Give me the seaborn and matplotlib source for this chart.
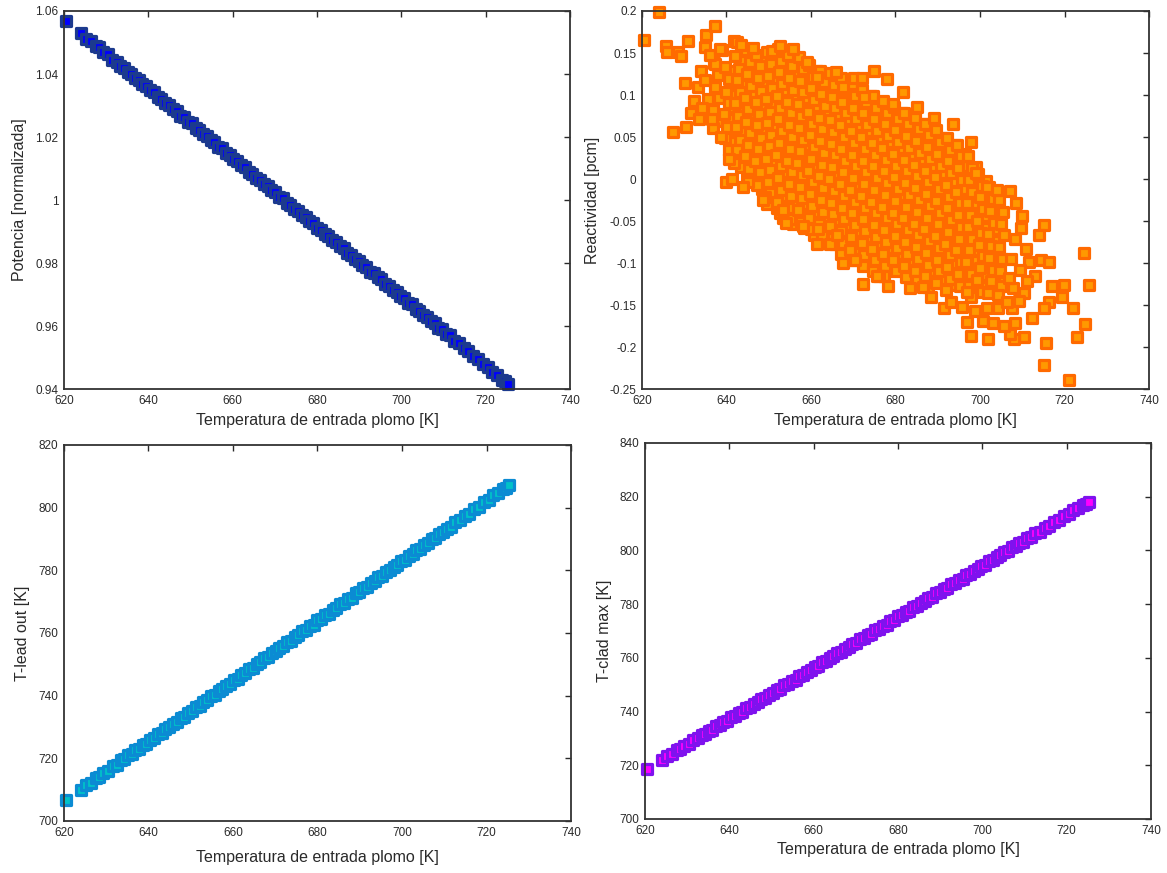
import matplotlib
matplotlib.use('Agg')
import matplotlib.pyplot as plt
import seaborn as sns

# inlet lead temperature [K] for the three "linear" panels
temp_lin = [
    620.5, 624.0, 625.3, 626.4, 627.5, 628.4, 629.3, 630.4, 631.5, 632.6,
    633.4, 634.3, 635.2, 636.0, 636.9, 637.8, 638.6, 639.5, 640.4, 641.3,
    642.2, 643.1, 644.0, 644.9, 645.8, 646.7, 647.6, 648.5, 649.4, 650.3,
    651.2, 652.1, 653.0, 653.9, 654.8, 655.7, 656.6, 657.5, 658.4, 659.3,
    660.2, 661.1, 662.0, 662.9, 663.8, 664.7, 665.6, 666.5, 667.4, 668.3,
    669.2, 670.1, 671.0, 671.9, 672.8, 673.7, 674.6, 675.5, 676.4, 677.3,
    678.2, 679.1, 680.0, 680.9, 681.8, 682.7, 683.6, 684.5, 685.4, 686.3,
    687.2, 688.1, 689.0, 689.9, 690.8, 691.7, 692.6, 693.5, 694.4, 695.3,
    696.2, 697.1, 698.0, 698.9, 699.8, 700.7, 701.6, 702.5, 703.4, 704.3,
    705.2, 706.1, 707.0, 707.9, 708.8, 709.7, 710.6, 711.5, 712.6, 713.7,
    714.8, 715.9, 717.0, 718.2, 719.3, 720.5, 721.6, 722.7, 723.8, 724.6,
    725.3,
]

potencia = [
    1.0569, 1.0530, 1.0512, 1.0506, 1.0490, 1.0485, 1.0470, 1.0462, 1.0446, 1.0437,
    1.0425, 1.0419, 1.0405, 1.0400, 1.0386, 1.0380, 1.0367, 1.0362, 1.0348, 1.0342,
    1.0328, 1.0322, 1.0308, 1.0302, 1.0288, 1.0282, 1.0268, 1.0263, 1.0249, 1.0243,
    1.0229, 1.0223, 1.0209, 1.0203, 1.0189, 1.0183, 1.0169, 1.0164, 1.0150, 1.0144,
    1.0130, 1.0124, 1.0110, 1.0104, 1.0090, 1.0084, 1.0070, 1.0065, 1.0051, 1.0045,
    1.0031, 1.0025, 1.0011, 1.0005, 0.9991, 0.9985, 0.9971, 0.9966, 0.9952, 0.9946,
    0.9932, 0.9926, 0.9912, 0.9906, 0.9892, 0.9886, 0.9872, 0.9867, 0.9853, 0.9847,
    0.9833, 0.9827, 0.9813, 0.9807, 0.9793, 0.9787, 0.9773, 0.9768, 0.9754, 0.9748,
    0.9734, 0.9728, 0.9714, 0.9708, 0.9694, 0.9688, 0.9674, 0.9669, 0.9655, 0.9649,
    0.9635, 0.9629, 0.9615, 0.9609, 0.9595, 0.9589, 0.9575, 0.9570, 0.9553, 0.9545,
    0.9529, 0.9521, 0.9505, 0.9496, 0.9480, 0.9471, 0.9454, 0.9446, 0.9430, 0.9425,
    0.9416,
]

t_lead_out = [
    706.6, 710.0, 711.5, 712.0, 713.6, 714.0, 715.4, 715.9, 717.4, 718.0,
    719.3, 719.7, 721.0, 721.3, 722.6, 723.0, 724.3, 724.7, 726.0, 726.4,
    727.7, 728.1, 729.4, 729.9, 731.1, 731.6, 732.9, 733.3, 734.6, 735.0,
    736.3, 736.8, 738.0, 738.5, 739.8, 740.2, 741.5, 742.0, 743.2, 743.7,
    745.0, 745.4, 746.7, 747.1, 748.4, 748.9, 750.1, 750.6, 751.9, 752.3,
    753.6, 754.1, 755.3, 755.8, 757.0, 757.5, 758.8, 759.2, 760.5, 761.0,
    762.2, 762.7, 764.0, 764.4, 765.7, 766.2, 767.4, 767.9, 769.1, 769.6,
    770.9, 771.3, 772.6, 773.1, 774.3, 774.8, 776.1, 776.5, 777.8, 778.2,
    779.5, 780.0, 781.2, 781.7, 783.0, 783.4, 784.7, 785.2, 786.4, 786.9,
    788.2, 788.6, 789.9, 790.3, 791.6, 792.1, 793.3, 793.8, 795.3, 795.9,
    797.4, 798.0, 799.5, 800.2, 801.7, 802.4, 803.9, 804.6, 806.0, 806.4,
    807.2,
]

t_clad_max = [
    718.7, 722.0, 723.4, 724.1, 725.5, 726.0, 727.2, 727.9, 729.3, 730.0,
    731.1, 731.6, 732.8, 733.2, 734.5, 734.9, 736.1, 736.5, 737.8, 738.2,
    739.5, 739.9, 741.2, 741.7, 742.9, 743.4, 744.6, 745.1, 746.3, 746.8,
    748.0, 748.5, 749.8, 750.2, 751.5, 751.9, 753.2, 753.6, 754.9, 755.3,
    756.6, 757.0, 758.3, 758.8, 760.0, 760.5, 761.7, 762.2, 763.4, 763.9,
    765.1, 765.6, 766.9, 767.3, 768.6, 769.0, 770.3, 770.7, 772.0, 772.4,
    773.7, 774.1, 775.4, 775.9, 777.1, 777.6, 778.8, 779.3, 780.5, 781.0,
    782.2, 782.7, 784.0, 784.4, 785.7, 786.1, 787.4, 787.8, 789.1, 789.5,
    790.8, 791.2, 792.5, 793.0, 794.2, 794.7, 795.9, 796.4, 797.6, 798.1,
    799.3, 799.8, 801.1, 801.5, 802.8, 803.2, 804.5, 804.9, 806.4, 807.0,
    808.5, 809.1, 810.6, 811.3, 812.7, 813.5, 814.9, 815.6, 817.0, 817.4,
    818.2,
]

# reactivity cloud, dense part (one line per temperature strip)
react_t = [
    637.1, 638.0, 637.4, 638.2, 636.9, 637.7,
    639.6, 640.5, 639.9, 640.7, 639.4, 640.2, 639.7, 640.6,
    642.1, 643.0, 642.4, 643.2, 641.9, 642.7, 642.2, 643.1, 642.5, 641.8,
    644.6, 645.5, 644.9, 645.7, 644.4, 645.2, 644.7, 645.6, 645.0, 644.3, 645.4, 644.8,
    647.1, 648.0, 647.4, 648.2, 646.9, 647.7, 647.2, 648.1, 647.5, 646.8, 647.9, 647.3,
    649.6, 650.5, 649.9, 650.7, 649.4, 650.2, 649.7, 650.6, 650.0, 649.3, 650.4, 649.8, 650.3, 649.5,
    652.1, 653.0, 652.4, 653.2, 651.9, 652.7, 652.2, 653.1, 652.5, 651.8, 652.9, 652.3, 652.8, 652.0, 652.6,
    654.6, 655.5, 654.9, 655.7, 654.4, 655.2, 654.7, 655.6, 655.0, 654.3, 655.4, 654.8, 655.3, 654.5, 655.1,
    657.1, 658.0, 657.4, 658.2, 656.9, 657.7, 657.2, 658.1, 657.5, 656.8, 657.9, 657.3, 657.8, 657.0, 657.6,
    659.6, 660.5, 659.9, 660.7, 659.4, 660.2, 659.7, 660.6, 660.0, 659.3, 660.4, 659.8, 660.3, 659.5, 660.1,
    662.1, 663.0, 662.4, 663.2, 661.9, 662.7, 662.2, 663.1, 662.5, 661.8, 662.9, 662.3, 662.8, 662.0, 662.6,
    664.6, 665.5, 664.9, 665.7, 664.4, 665.2, 664.7, 665.6, 665.0, 664.3, 665.4, 664.8, 665.3, 664.5, 665.1,
    667.1, 668.0, 667.4, 668.2, 666.9, 667.7, 667.2, 668.1, 667.5, 666.8, 667.9, 667.3, 667.8, 667.0, 667.6, 667.2,
    669.6, 670.5, 669.9, 670.7, 669.4, 670.2, 669.7, 670.6, 670.0, 669.3, 670.4, 669.8, 670.3, 669.5, 670.1, 669.7,
    672.1, 673.0, 672.4, 673.2, 671.9, 672.7, 672.2, 673.1, 672.5, 671.8, 672.9, 672.3, 672.8, 672.0, 672.6, 672.2,
    674.6, 675.5, 674.9, 675.7, 674.4, 675.2, 674.7, 675.6, 675.0, 674.3, 675.4, 674.8, 675.3, 674.5, 675.1, 674.7,
    677.1, 678.0, 677.4, 678.2, 676.9, 677.7, 677.2, 678.1, 677.5, 676.8, 677.9, 677.3, 677.8, 677.0, 677.6, 677.2,
    679.6, 680.5, 679.9, 680.7, 679.4, 680.2, 679.7, 680.6, 680.0, 679.3, 680.4, 679.8, 680.3, 679.5, 680.1,
    682.1, 683.0, 682.4, 683.2, 681.9, 682.7, 682.2, 683.1, 682.5, 681.8, 682.9, 682.3, 682.8, 682.0, 682.6,
    684.6, 685.5, 684.9, 685.7, 684.4, 685.2, 684.7, 685.6, 685.0, 684.3, 685.4, 684.8, 685.3, 684.5, 685.1,
    687.1, 688.0, 687.4, 688.2, 686.9, 687.7, 687.2, 688.1, 687.5, 686.8, 687.9, 687.3, 687.8, 687.0, 687.6,
    689.6, 690.5, 689.9, 690.7, 689.4, 690.2, 689.7, 690.6, 690.0, 689.3, 690.4, 689.8, 690.3, 689.5,
    692.1, 693.0, 692.4, 693.2, 691.9, 692.7, 692.2, 693.1, 692.5, 691.8, 692.9, 692.3, 692.8, 692.0,
    694.6, 695.5, 694.9, 695.7, 694.4, 695.2, 694.7, 695.6, 695.0, 694.3, 695.4, 694.8, 695.3,
    697.1, 698.0, 697.4, 698.2, 696.9, 697.7, 697.2, 698.1, 697.5, 696.8, 697.9, 697.3, 697.8,
    699.6, 700.5, 699.9, 700.7, 699.4, 700.2, 699.7, 700.6, 700.0, 699.3, 700.4,
    702.1, 703.0, 702.4, 703.2, 701.9, 702.7, 702.2, 703.1, 702.5, 701.8,
    704.6, 705.5, 704.9, 705.7, 704.4, 705.2, 704.7, 705.6,
]

react_rho = [
    0.138, 0.124, 0.109, 0.096, 0.082, 0.069,
    0.133, 0.119, 0.104, 0.091, 0.077, 0.062, 0.049, 0.035,
    0.146, 0.131, 0.118, 0.103, 0.090, 0.075, 0.062, 0.047, 0.034, 0.019,
    0.153, 0.139, 0.125, 0.111, 0.096, 0.083, 0.068, 0.055, 0.040, 0.027, 0.012, 0.000,
    0.148, 0.134, 0.120, 0.105, 0.092, 0.077, 0.064, 0.049, 0.036, 0.021, 0.008, -0.007,
    0.151, 0.137, 0.123, 0.108, 0.095, 0.080, 0.067, 0.052, 0.039, 0.024, 0.011, -0.004, -0.017, -0.030,
    0.155, 0.141, 0.127, 0.113, 0.099, 0.085, 0.071, 0.057, 0.043, 0.029, 0.015, 0.001, -0.013, -0.027, -0.041,
    0.148, 0.134, 0.120, 0.106, 0.092, 0.078, 0.064, 0.050, 0.036, 0.022, 0.008, -0.006, -0.020, -0.034, -0.048,
    0.145, 0.131, 0.117, 0.103, 0.089, 0.075, 0.061, 0.047, 0.033, 0.019, 0.005, -0.009, -0.023, -0.037, -0.051,
    0.136, 0.122, 0.108, 0.094, 0.080, 0.066, 0.052, 0.038, 0.024, 0.010, -0.004, -0.018, -0.032, -0.046, -0.060,
    0.129, 0.115, 0.101, 0.087, 0.073, 0.059, 0.045, 0.031, 0.017, 0.003, -0.011, -0.025, -0.039, -0.053, -0.067,
    0.126, 0.112, 0.098, 0.084, 0.070, 0.056, 0.042, 0.028, 0.014, 0.000, -0.014, -0.028, -0.042, -0.056, -0.070,
    0.120, 0.106, 0.092, 0.078, 0.064, 0.050, 0.036, 0.022, 0.008, -0.006, -0.020, -0.034, -0.048, -0.062, -0.076, -0.089,
    0.113, 0.099, 0.085, 0.071, 0.057, 0.043, 0.029, 0.015, 0.001, -0.013, -0.027, -0.041, -0.055, -0.069, -0.083, -0.097,
    0.106, 0.092, 0.078, 0.064, 0.050, 0.036, 0.022, 0.008, -0.006, -0.020, -0.034, -0.048, -0.062, -0.076, -0.090, -0.104,
    0.099, 0.085, 0.071, 0.057, 0.043, 0.029, 0.015, 0.001, -0.013, -0.027, -0.041, -0.055, -0.069, -0.083, -0.097, -0.110,
    0.093, 0.079, 0.065, 0.051, 0.037, 0.023, 0.009, -0.005, -0.019, -0.033, -0.047, -0.061, -0.075, -0.089, -0.103, -0.116,
    0.086, 0.072, 0.058, 0.044, 0.030, 0.016, 0.002, -0.012, -0.026, -0.040, -0.054, -0.068, -0.082, -0.096, -0.110,
    0.079, 0.065, 0.051, 0.037, 0.023, 0.009, -0.005, -0.019, -0.033, -0.047, -0.061, -0.075, -0.089, -0.103, -0.117,
    0.073, 0.059, 0.045, 0.031, 0.017, 0.003, -0.011, -0.025, -0.039, -0.053, -0.067, -0.081, -0.095, -0.109, -0.122,
    0.066, 0.052, 0.038, 0.024, 0.010, -0.004, -0.018, -0.032, -0.046, -0.060, -0.074, -0.088, -0.102, -0.116, -0.128,
    0.058, 0.044, 0.030, 0.016, 0.002, -0.012, -0.026, -0.040, -0.054, -0.068, -0.082, -0.096, -0.110, -0.124,
    0.049, 0.035, 0.021, 0.007, -0.007, -0.021, -0.035, -0.049, -0.063, -0.077, -0.091, -0.105, -0.119, -0.132,
    0.041, 0.027, 0.013, -0.001, -0.015, -0.029, -0.043, -0.057, -0.071, -0.085, -0.099, -0.113, -0.127,
    0.027, 0.013, -0.001, -0.015, -0.029, -0.043, -0.057, -0.071, -0.085, -0.099, -0.113, -0.127, -0.140,
    0.006, -0.008, -0.022, -0.036, -0.050, -0.064, -0.078, -0.092, -0.106, -0.120, -0.134,
    -0.010, -0.024, -0.038, -0.052, -0.066, -0.080, -0.094, -0.108, -0.122, -0.136,
    -0.025, -0.039, -0.053, -0.067, -0.081, -0.095, -0.109, -0.123,
]

# reactivity cloud, points lying between the strips above
fill_t = [
    641.5, 640.8, 641.8, 641.0, 641.3, 640.6, 641.6, 641.1,
    644.1, 643.4, 644.4, 643.6, 643.9, 643.2, 644.2, 643.7, 644.3, 643.5,
    646.5, 645.8, 646.8, 646.0, 646.3, 645.6, 646.6, 646.1, 646.7, 645.9, 646.4,
    649.1, 648.4, 649.4, 648.6, 648.9, 648.2, 649.2, 648.7, 649.3, 648.5, 649.0, 648.3,
    651.5, 650.8, 651.8, 651.0, 651.3, 650.6, 651.6, 651.1, 651.7, 650.9, 651.4, 650.7, 651.2, 651.9,
    654.1, 653.4, 654.4, 653.6, 653.9, 653.2, 654.2, 653.7, 654.3, 653.5, 654.0, 653.3, 653.8, 654.5, 653.4,
    656.5, 655.8, 656.8, 656.0, 656.3, 655.6, 656.6, 656.1, 656.7, 655.9, 656.4, 655.7, 656.2, 656.9, 655.8,
    659.1, 658.4, 659.4, 658.6, 658.9, 658.2, 659.2, 658.7, 659.3, 658.5, 659.0, 658.3, 658.8, 659.5, 658.4,
    661.5, 660.8, 661.8, 661.0, 661.3, 660.6, 661.6, 661.1, 661.7, 660.9, 661.4, 660.7, 661.2, 661.9, 660.8,
    664.1, 663.4, 664.4, 663.6, 663.9, 663.2, 664.2, 663.7, 664.3, 663.5, 664.0, 663.3, 663.8, 664.5, 663.4,
    666.5, 665.8, 666.8, 666.0, 666.3, 665.6, 666.6, 666.1, 666.7, 665.9, 666.4, 665.7, 666.2, 666.9, 665.8,
    669.1, 668.4, 669.4, 668.6, 668.9, 668.2, 669.2, 668.7, 669.3, 668.5, 669.0, 668.3, 668.8, 669.5, 668.4,
    671.5, 670.8, 671.8, 671.0, 671.3, 670.6, 671.6, 671.1, 671.7, 670.9, 671.4, 670.7, 671.2, 671.9, 670.8,
    674.1, 673.4, 674.4, 673.6, 673.9, 673.2, 674.2, 673.7, 674.3, 673.5, 674.0, 673.3, 673.8, 674.5, 673.4,
    676.5, 675.8, 676.8, 676.0, 676.3, 675.6, 676.6, 676.1, 676.7, 675.9, 676.4, 675.7, 676.2, 676.9, 675.8,
    679.1, 678.4, 679.4, 678.6, 678.9, 678.2, 679.2, 678.7, 679.3, 678.5, 679.0, 678.3, 678.8, 679.5, 678.4,
    681.5, 680.8, 681.8, 681.0, 681.3, 680.6, 681.6, 681.1, 681.7, 680.9, 681.4, 680.7, 681.2, 681.9,
    684.1, 683.4, 684.4, 683.6, 683.9, 683.2, 684.2, 683.7, 684.3, 683.5, 684.0, 683.3, 683.8, 684.5,
    686.5, 685.8, 686.8, 686.0, 686.3, 685.6, 686.6, 686.1, 686.7, 685.9, 686.4, 685.7, 686.2, 686.9,
    689.1, 688.4, 689.4, 688.6, 688.9, 688.2, 689.2, 688.7, 689.3, 688.5, 689.0, 688.3, 688.8, 689.5,
    691.5, 690.8, 691.8, 691.0, 691.3, 690.6, 691.6, 691.1, 691.7, 690.9, 691.4, 690.7, 691.2,
    694.1, 693.4, 694.4, 693.6, 693.9, 693.2, 694.2, 693.7, 694.3, 693.5, 694.0, 693.3, 693.8,
    696.5, 695.8, 696.8, 696.0, 696.3, 695.6, 696.6, 696.1, 696.7, 695.9, 696.4, 695.7,
    699.1, 698.4, 699.4, 698.6, 698.9, 698.2, 699.2, 698.7, 699.3, 698.5, 699.0,
    701.5, 700.8, 701.8, 701.0, 701.3, 700.6, 701.6, 701.1, 701.7, 700.9,
    704.1, 703.4, 704.4, 703.6, 703.9, 703.2, 704.2, 703.7, 704.3,
]

fill_rho = [
    0.128, 0.114, 0.100, 0.086, 0.072, 0.058, 0.044, 0.030,
    0.140, 0.126, 0.112, 0.098, 0.084, 0.070, 0.056, 0.042, 0.028, 0.014,
    0.144, 0.130, 0.116, 0.102, 0.088, 0.074, 0.060, 0.046, 0.032, 0.018, 0.004,
    0.142, 0.128, 0.114, 0.100, 0.086, 0.072, 0.058, 0.044, 0.030, 0.016, 0.002, -0.012,
    0.146, 0.132, 0.118, 0.104, 0.090, 0.076, 0.062, 0.048, 0.034, 0.020, 0.006, -0.008, -0.022, -0.034,
    0.148, 0.134, 0.120, 0.106, 0.092, 0.078, 0.064, 0.050, 0.036, 0.022, 0.008, -0.006, -0.020, -0.034, -0.046,
    0.141, 0.127, 0.113, 0.099, 0.085, 0.071, 0.057, 0.043, 0.029, 0.015, 0.001, -0.013, -0.027, -0.041, -0.053,
    0.138, 0.124, 0.110, 0.096, 0.082, 0.068, 0.054, 0.040, 0.026, 0.012, -0.002, -0.016, -0.030, -0.044, -0.058,
    0.129, 0.115, 0.101, 0.087, 0.073, 0.059, 0.045, 0.031, 0.017, 0.003, -0.011, -0.025, -0.039, -0.053, -0.067,
    0.122, 0.108, 0.094, 0.080, 0.066, 0.052, 0.038, 0.024, 0.010, -0.004, -0.018, -0.032, -0.046, -0.060, -0.074,
    0.119, 0.105, 0.091, 0.077, 0.063, 0.049, 0.035, 0.021, 0.007, -0.007, -0.021, -0.035, -0.049, -0.063, -0.077,
    0.113, 0.099, 0.085, 0.071, 0.057, 0.043, 0.029, 0.015, 0.001, -0.013, -0.027, -0.041, -0.055, -0.069, -0.083,
    0.106, 0.092, 0.078, 0.064, 0.050, 0.036, 0.022, 0.008, -0.006, -0.020, -0.034, -0.048, -0.062, -0.076, -0.090,
    0.099, 0.085, 0.071, 0.057, 0.043, 0.029, 0.015, 0.001, -0.013, -0.027, -0.041, -0.055, -0.069, -0.083, -0.097,
    0.092, 0.078, 0.064, 0.050, 0.036, 0.022, 0.008, -0.006, -0.020, -0.034, -0.048, -0.062, -0.076, -0.090, -0.104,
    0.086, 0.072, 0.058, 0.044, 0.030, 0.016, 0.002, -0.012, -0.026, -0.040, -0.054, -0.068, -0.082, -0.096, -0.108,
    0.079, 0.065, 0.051, 0.037, 0.023, 0.009, -0.005, -0.019, -0.033, -0.047, -0.061, -0.075, -0.089, -0.103,
    0.072, 0.058, 0.044, 0.030, 0.016, 0.002, -0.012, -0.026, -0.040, -0.054, -0.068, -0.082, -0.096, -0.110,
    0.066, 0.052, 0.038, 0.024, 0.010, -0.004, -0.018, -0.032, -0.046, -0.060, -0.074, -0.088, -0.102, -0.116,
    0.058, 0.044, 0.030, 0.016, 0.002, -0.012, -0.026, -0.040, -0.054, -0.068, -0.082, -0.096, -0.110, -0.122,
    0.049, 0.035, 0.021, 0.007, -0.007, -0.021, -0.035, -0.049, -0.063, -0.077, -0.091, -0.105, -0.119,
    0.040, 0.026, 0.012, -0.002, -0.016, -0.030, -0.044, -0.058, -0.072, -0.086, -0.100, -0.114, -0.126,
    0.030, 0.016, 0.002, -0.012, -0.026, -0.040, -0.054, -0.068, -0.082, -0.096, -0.110, -0.124,
    0.014, 0.000, -0.014, -0.028, -0.042, -0.056, -0.070, -0.084, -0.098, -0.112, -0.126,
    -0.002, -0.016, -0.030, -0.044, -0.058, -0.072, -0.086, -0.100, -0.114, -0.128,
    -0.018, -0.032, -0.046, -0.060, -0.074, -0.088, -0.102, -0.116, -0.130,
]

# reactivity cloud, scattered points around the edge
edge_t = [
    620.5, 624.0, 625.7, 626.0, 628.6, 629.3, 631.0, 627.4, 630.5, 630.2, 631.7, 635.2,
    637.4, 634.8, 639.0, 641.7, 642.6, 639.8, 640.5, 634.0, 637.4, 633.6, 636.9, 645.0,
    649.0, 646.2, 650.7, 652.6, 655.7, 659.0, 661.4, 666.0, 670.2, 672.1, 675.0, 672.6,
    667.6, 647.9, 678.0, 681.7, 679.5, 685.0, 689.0, 693.6, 697.9, 699.0, 701.7, 704.0,
    707.0, 710.0, 715.2, 714.0, 724.5, 711.7, 714.5, 716.4, 713.0, 725.7, 717.0, 719.8,
    719.5, 716.4, 715.2, 722.0, 712.4, 724.8, 722.9, 715.7, 715.2, 721.0, 710.5, 708.0,
    707.0, 705.7, 708.3, 701.9, 697.9, 697.0, 700.7, 703.0, 698.8, 701.7, 704.3, 707.6,
    691.4, 696.9, 710.5, 707.9, 705.0, 678.3, 672.4, 676.0, 686.4, 648.6, 653.3, 654.0,
    658.0, 661.4, 664.5, 667.6, 661.7, 666.2, 669.3, 670.5, 675.7, 708.5, 709.8, 708.2,
    710.8, 707.4, 709.5, 706.8, 711.2, 704.2, 706.5, 709.2, 693.2, 688.5, 683.5, 695.8,
    636.2, 633.2, 635.6, 632.3, 638.4, 643.5, 635.0, 634.3, 638.8, 641.2, 643.8, 636.5,
]

edge_rho = [
    0.166, 0.199, 0.158, 0.151, 0.151, 0.146, 0.164, 0.056, 0.062, 0.114, 0.079, 0.172,
    0.182, 0.157, 0.153, 0.164, 0.163, -0.003, 0.024, 0.128, 0.137, 0.071, 0.061, -0.003,
    -0.021, 0.156, 0.152, 0.158, 0.155, 0.139, 0.122, 0.127, 0.120, 0.120, 0.128, 0.098,
    0.109, 0.134, 0.119, 0.103, 0.089, 0.086, 0.073, 0.066, 0.044, 0.007, -0.009, -0.013,
    -0.014, -0.044, -0.055, -0.067, -0.088, -0.099, -0.097, -0.099, -0.115, -0.126, -0.127, -0.126,
    -0.141, -0.146, -0.153, -0.153, -0.165, -0.173, -0.188, -0.195, -0.221, -0.239, -0.188, -0.190,
    -0.184, -0.175, -0.171, -0.190, -0.187, -0.170, -0.169, -0.172, -0.157, -0.153, -0.153, -0.153,
    -0.153, -0.134, -0.136, -0.130, -0.127, -0.127, -0.125, -0.115, -0.128, -0.025, -0.037, -0.052,
    -0.056, -0.077, -0.077, -0.100, -0.059, -0.067, -0.085, -0.097, -0.115, -0.028, -0.058, -0.072,
    -0.083, -0.095, -0.108, -0.118, -0.122, -0.138, -0.146, -0.145, -0.147, -0.140, -0.130, -0.152,
    0.148, 0.110, 0.095, 0.093, 0.155, 0.160, 0.118, 0.084, 0.050, 0.000, -0.010, 0.072,
]

x_ticks = [620, 640, 660, 680, 700, 720, 740]
pot_ticks = [0.94, 0.96, 0.98, 1.0, 1.02, 1.04, 1.06]
pot_labels = ['0.94', '0.96', '0.98', '1', '1.02', '1.04', '1.06']
rho_ticks = [-0.25, -0.2, -0.15, -0.1, -0.05, 0, 0.05, 0.1, 0.15, 0.2]
rho_labels = ['-0.25', '-0.2', '-0.15', '-0.1', '-0.05', '0', '0.05', '0.1', '0.15', '0.2']
lead_ticks = [700, 720, 740, 760, 780, 800, 820]
clad_ticks = [700, 720, 740, 760, 780, 800, 820, 840]

xlabel = 'Temperatura de entrada plomo [K]'

sns.set_theme(style='white')
plt.rcParams['font.family'] = ['Liberation Sans', 'DejaVu Sans']
plt.rcParams['text.color'] = '#2a2a2a'
plt.rcParams['axes.labelcolor'] = '#2a2a2a'

fig = plt.figure(figsize=(11.67, 8.73), dpi=100)
fig.patch.set_facecolor('white')

ax_pot = fig.add_axes([0.0548, 0.5544, 0.4336, 0.4330])
ax_rho = fig.add_axes([0.5501, 0.5544, 0.4345, 0.4330])
ax_lead = fig.add_axes([0.0548, 0.0596, 0.4345, 0.4307])
ax_clad = fig.add_axes([0.5527, 0.0619, 0.4336, 0.4307])

MS = 46
LW = 2.3

sns.scatterplot(x=temp_lin, y=potencia, ax=ax_pot, marker='s', s=MS,
                color='#0000ff', edgecolor='#1c3a8e', linewidth=LW, clip_on=False)
# orange cloud: in-between points first, then the strips, then the outer points
sns.scatterplot(x=fill_t, y=fill_rho, ax=ax_rho, marker='s', s=MS,
                color='#ff9900', edgecolor='#ff6a00', linewidth=LW)
sns.scatterplot(x=react_t, y=react_rho, ax=ax_rho, marker='s', s=MS,
                color='#ff9900', edgecolor='#ff6a00', linewidth=LW)
sns.scatterplot(x=edge_t, y=edge_rho, ax=ax_rho, marker='s', s=MS,
                color='#ff9900', edgecolor='#ff6a00', linewidth=LW, clip_on=False)
sns.scatterplot(x=temp_lin, y=t_lead_out, ax=ax_lead, marker='s', s=MS,
                color='#00c2c8', edgecolor='#0b8bd3', linewidth=LW, clip_on=False)
sns.scatterplot(x=temp_lin, y=t_clad_max, ax=ax_clad, marker='s', s=MS,
                color='#ff00ff', edgecolor='#7f12ee', linewidth=LW, clip_on=False)


def style_axes(ax, yticks, ylabels, ylim, ylabel, ylab_x, xlab_y):
    ax.set_xlim(620, 740)
    ax.set_ylim(*ylim)
    ax.set_xticks(x_ticks)
    ax.set_xticklabels([str(t) for t in x_ticks])
    ax.set_yticks(yticks)
    ax.set_yticklabels(ylabels)
    ax.tick_params(direction='in', length=4, width=1, colors='#2a2a2a',
                   top=True, right=True, labelsize=8.5, pad=4)
    for sp in ax.spines.values():
        sp.set_color('#333333')
        sp.set_linewidth(1.3)
        sp.set_visible(True)
        sp.set_zorder(5)
    ax.set_xlabel(xlabel, fontsize=11.5)
    ax.set_ylabel(ylabel, fontsize=11.5)
    ax.yaxis.set_label_coords(ylab_x, 0.5)
    ax.xaxis.set_label_coords(0.5, xlab_y)
    ax.set_facecolor('white')
    ax.grid(False)


style_axes(ax_pot, pot_ticks, pot_labels, (0.94, 1.06), 'Potencia [normalizada]', -0.074, -0.0635)
style_axes(ax_rho, rho_ticks, rho_labels, (-0.25, 0.2), 'Reactividad [pcm]', -0.083, -0.0635)
style_axes(ax_lead, lead_ticks, [str(t) for t in lead_ticks], (700, 820), 'T-lead out [K]', -0.067, -0.077)
style_axes(ax_clad, clad_ticks, [str(t) for t in clad_ticks], (700, 840), 'T-clad max [K]', -0.065, -0.061)

fig.savefig('out.png', dpi=100, facecolor='white')
